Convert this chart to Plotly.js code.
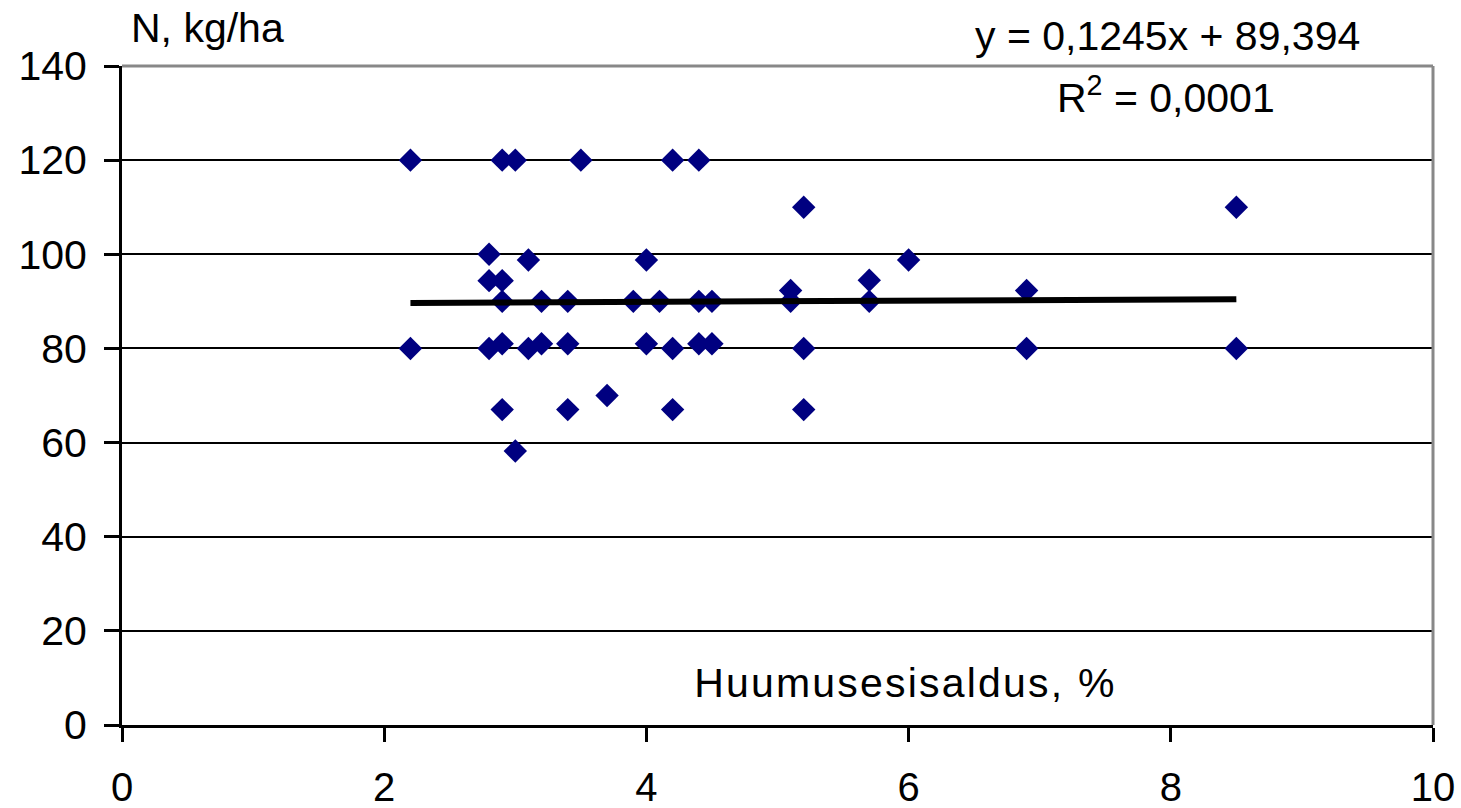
<!DOCTYPE html>
<html>
<head>
<meta charset="utf-8">
<script src="https://cdn.plot.ly/plotly-3.0.1.min.js"></script>
<style>html,body{margin:0;padding:0;background:#fff;}#chart{width:1461px;height:808px;}</style>
</head>
<body>
<div id="chart"></div>
<script>
// Humus content, % (x) and N, kg/ha (y)
const humus = [2.2, 2.2, 2.8, 2.8, 2.8, 2.9, 2.9, 2.9, 2.9, 2.9, 3.0, 3.0, 3.1, 3.1, 3.2, 3.2, 3.4, 3.4, 3.4, 3.5, 3.7, 3.9, 4.0, 4.0, 4.1, 4.2, 4.2, 4.2, 4.4, 4.4, 4.4, 4.5, 4.5, 5.1, 5.1, 5.2, 5.2, 5.2, 5.7, 5.7, 6.0, 6.9, 6.9, 8.5, 8.5];
const nitrogen = [120, 80, 100, 94.4, 80, 120, 94.4, 90, 81, 67, 120, 58.2, 98.8, 80, 90, 81, 90, 81, 67, 120, 70, 90, 98.8, 81, 90, 120, 80, 67, 120, 90, 81, 90, 81, 92.3, 90, 110, 80, 67, 94.5, 90, 98.8, 92.3, 80, 110, 80];

// Linear trend as printed on the chart
const slope = 0.1245;
const intercept = 89.394;
const trendX = [2.2, 8.5];
const trendY = trendX.map(v => slope * v + intercept);

const xTicks = [0, 2, 4, 6, 8, 10];
const yTicks = [0, 20, 40, 60, 80, 100, 120, 140];

const fontFam = 'Liberation Sans, Arial, sans-serif';
const fs = 41;

const traces = [
  {
    x: humus, y: nitrogen, type: 'scatter', mode: 'markers',
    marker: {symbol: 'diamond', size: 18, color: '#000080', line: {width: 0}},
    hoverinfo: 'x+y', showlegend: false
  },
  {
    x: trendX, y: trendY, type: 'scatter', mode: 'lines',
    line: {color: '#000000', width: 6}, showlegend: false, hoverinfo: 'skip'
  }
];

const layout = {
  width: 1461, height: 808,
  margin: {l: 122, r: 28, t: 66, b: 83, pad: 0},
  paper_bgcolor: '#ffffff', plot_bgcolor: '#ffffff',
  font: {family: fontFam, size: fs, color: '#000'},
  showlegend: false,
  xaxis: {
    range: [0, 10], tickvals: xTicks, ticktext: xTicks.map(String),
    showgrid: false, zeroline: false,
    showline: true, linecolor: '#000', linewidth: 3,
    ticks: 'outside', ticklen: 14, tickwidth: 3, tickcolor: '#000',
    tickfont: {family: fontFam, size: 40, color: '#000'},
    ticklabelstandoff: 11,
    fixedrange: true
  },
  yaxis: {
    range: [0, 140], tickvals: yTicks, ticktext: yTicks.map(String),
    showgrid: true, gridcolor: '#000', gridwidth: 2,
    zeroline: false,
    showline: true, linecolor: '#000', linewidth: 3,
    ticks: 'outside', ticklen: 15, tickwidth: 3, tickcolor: '#000',
    tickfont: {family: fontFam, size: fs, color: '#000'},
    ticklabelstandoff: 9,
    fixedrange: true
  },
  shapes: [
    {type: 'line', xref: 'paper', yref: 'paper', x0: 0, x1: 1, y0: 1, y1: 1, line: {color: '#888888', width: 3}},
    {type: 'line', xref: 'paper', yref: 'paper', x0: 1, x1: 1, y0: 0, y1: 1, line: {color: '#888888', width: 3}}
  ],
  annotations: [
    {text: 'N, kg/ha', xref: 'paper', yref: 'paper', x: (129 - 122) / 1311, y: (725 - 28) / 659,
     xanchor: 'left', yanchor: 'middle', showarrow: false, font: {family: fontFam, size: fs, color: '#000'}},
    {text: 'y = 0,1245x + 89,394', xref: 'paper', yref: 'paper', x: (1167 - 122) / 1311, y: (725 - 36) / 659,
     xanchor: 'center', yanchor: 'middle', showarrow: false, font: {family: fontFam, size: fs, color: '#000'}},
    {text: 'R<sup>2</sup> = 0,0001', xref: 'paper', yref: 'paper', x: (1166 - 122) / 1311, y: (725 - 95) / 659,
     xanchor: 'center', yanchor: 'middle', showarrow: false, font: {family: fontFam, size: fs, color: '#000'}},
    {text: 'Huumusesisaldus, %', xref: 'paper', yref: 'paper', x: (905 - 122) / 1311, y: (725 - 683) / 659,
     xanchor: 'center', yanchor: 'middle', showarrow: false, font: {family: fontFam, size: fs, color: '#000'}}
  ]
};

Plotly.newPlot('chart', traces, layout, {displayModeBar: false, staticPlot: true}).then(function () {
  document.querySelectorAll('.annotation-text').forEach(function (t) {
    if (t.textContent.indexOf('Huumus') === 0) {
      t.style.letterSpacing = '2.2px';
    }
  });
});
</script>
</body>
</html>
